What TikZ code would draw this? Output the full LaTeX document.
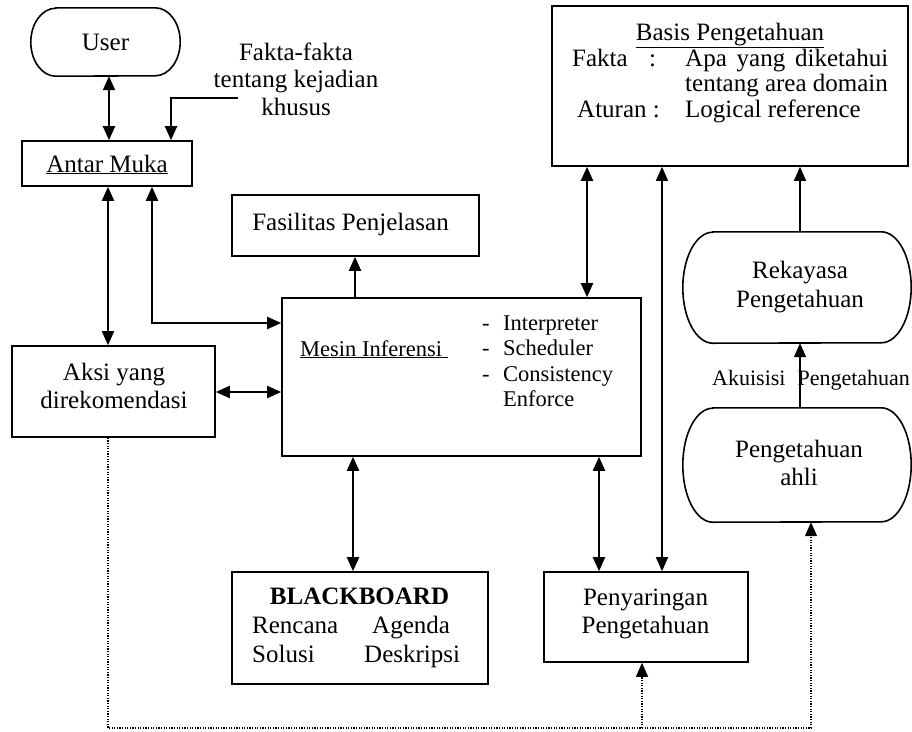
\documentclass[tikz,border=0pt]{standalone}
\usepackage{fontspec}
\setmainfont{Liberation Serif}
\usetikzlibrary{arrows.meta}
\newcommand\drawstadium[3]{%
  \draw[line width=1.6pt] ([xshift=#2]#1.north west) -- ([xshift=-#2]#1.north east)
    arc[start angle=90,end angle=-90,x radius=#2,y radius=#3]
    -- ([xshift=#2]#1.south west)
    arc[start angle=270,end angle=90,x radius=#2,y radius=#3] -- cycle;}
\begin{document}
\begin{tikzpicture}[x=1pt,y=-1pt,
  >={Triangle[length=14pt,width=12pt]},
  txt/.style={font=\fontsize{25}{30}\selectfont, inner sep=0pt, anchor=base},
  stxt/.style={font=\fontsize{22.5}{27}\selectfont, inner sep=0pt, anchor=base},
  box/.style={draw, line width=1.6pt, inner sep=0pt},
  blank/.style={inner sep=0pt},
  conn/.style={line width=2pt},
  thinconn/.style={line width=1.3pt},
  dotconn/.style={line width=1.2pt, dash pattern=on 1.2pt off 1.4pt}]
\fill[white] (0,0) rectangle (912,731);
\useasboundingbox (0,0) rectangle (912,731);

% shapes
\node[blank, minimum width=149pt, minimum height=68pt] (user) at (105.5,42) {};
\drawstadium{user}{25pt}{34pt}
\node[box, minimum width=170pt, minimum height=45pt] (antar) at (107,163.5) {};
\node[box, minimum width=356pt, minimum height=160pt] (basis) at (730,86) {};
\node[box, minimum width=247pt, minimum height=61pt] (fas) at (355.5,225.5) {};
\node[box, minimum width=359pt, minimum height=158pt] (mesin) at (461.5,377) {};
\node[box, minimum width=203pt, minimum height=91pt] (aksi) at (113.5,391.5) {};
\node[blank, minimum width=228pt, minimum height=111pt] (rek) at (797,287.5) {};
\drawstadium{rek}{30pt}{55.5pt}
\node[blank, minimum width=228pt, minimum height=114pt] (pa) at (797,465) {};
\drawstadium{pa}{30pt}{57pt}
\node[box, minimum width=256pt, minimum height=112pt] (bb) at (360,628) {};
\node[box, minimum width=204pt, minimum height=90pt] (peny) at (646,617) {};

% texts
\node[txt] (tuser) at (105.5,50) {User};
\node[txt] (tfak1) at (296,60) {Fakta-fakta};
\node[txt] (tfak2) at (296,87) {tentang kejadian};
\node[txt] (tfak3) at (296,115) {khusus};
\node[txt] (tantar) at (107,172) {\underline{Antar Muka}};
\node[txt] (tbasis) at (730,40) {\underline{Basis Pengetahuan}};
\node[txt, anchor=base west] (tfakta) at (572,66) {Fakta};
\node[txt, anchor=base west] (tcolon) at (649,66) {:};
\node[txt, anchor=base west] (tapa) at (685,66) {\makebox[203pt][s]{Apa yang diketahui}};
\node[txt, anchor=base west] (tarea) at (685,91.5) {tentang area domain};
\node[txt, anchor=base west] (tatur) at (577,117) {Aturan :};
\node[txt, anchor=base west] (tlog) at (685,117) {Logical reference};
\node[txt] (tfas) at (350.5,230) {Fasilitas Penjelasan};
\node[stxt, anchor=base west] (tmesin) at (300,356) {\underline{Mesin Inferensi\ }};
\node[stxt, anchor=base west] (d1) at (482,330) {-};
\node[stxt, anchor=base west] (d2) at (482,355.5) {-};
\node[stxt, anchor=base west] (d3) at (482,381) {-};
\node[stxt, anchor=base west] (i1) at (503,330) {Interpreter};
\node[stxt, anchor=base west] (i2) at (503,355.5) {Scheduler};
\node[stxt, anchor=base west] (i3) at (503,381) {Consistency};
\node[stxt, anchor=base west] (i4) at (503,406.5) {Enforce};
\node[txt] (taksi1) at (114,380) {Aksi yang};
\node[txt] (taksi2) at (114,408) {direkomendasi};
\node[txt] (trek1) at (800,278) {Rekayasa};
\node[txt] (trek2) at (800,307) {Pengetahuan};
\node[txt] (tpa1) at (799,457) {Pengetahuan};
\node[txt] (tpa2) at (799,485) {ahli};
\node[txt] (tbb) at (359.5,604) {\bfseries BLACKBOARD};
\node[txt, anchor=base west] (tren) at (252,633) {Rencana};
\node[txt, anchor=base west] (tage) at (372,633) {Agenda};
\node[txt, anchor=base west] (tsol) at (252,662) {Solusi};
\node[txt, anchor=base west] (tdes) at (364,662) {Deskripsi};
\node[txt] (tpen1) at (645.5,605) {Penyaringan};
\node[txt] (tpen2) at (645.5,633) {Pengetahuan};

% connectors
\draw[conn,<->] (109,0 |- user.south) -- (109,0 |- antar.north);
\coordinate (fk) at (238,98);
\draw[conn,->] (fk) -- (171,98) -- (171,0 |- antar.north);
\draw[conn,<->] (108,0 |- antar.south) -- (108,0 |- aksi.north);
\draw[conn,<->] (152,0 |- antar.south) |- (mesin.west |- 0,323);
\draw[conn,<->] (aksi.east |- 0,392) -- (mesin.west |- 0,392);
\draw[conn,->] (355,0 |- mesin.north) -- (355,0 |- fas.south);
\draw[conn,<->] (353,0 |- mesin.south) -- (353,0 |- bb.north);
\draw[conn,<->] (587,0 |- mesin.north) -- (587,0 |- basis.south);
\draw[conn,<->] (599,0 |- mesin.south) -- (599,0 |- peny.north);
\draw[thinconn,<->] (662,0 |- basis.south) -- (662,0 |- peny.north);
\draw[thinconn,->] (800,0 |- rek.north) -- (800,0 |- basis.south);
\draw[thinconn,->] (800,0 |- pa.north) -- (800,0 |- rek.south);
\node[font=\fontsize{22}{26}\selectfont, inner sep=0pt, anchor=base west] (takui) at (712,385) {Akuisisi\hspace{12pt}Pengetahuan};

\coordinate (dl) at (108,728);
\coordinate (dr) at (811,728);
\coordinate (dm) at (642,728);
\draw[dotconn,->] (108,0 |- aksi.south) -- (dl) -- (dr) -- (811,0 |- pa.south);
\draw[dotconn,->] (dm) -- (642,0 |- peny.south);
\end{tikzpicture}
\end{document}
